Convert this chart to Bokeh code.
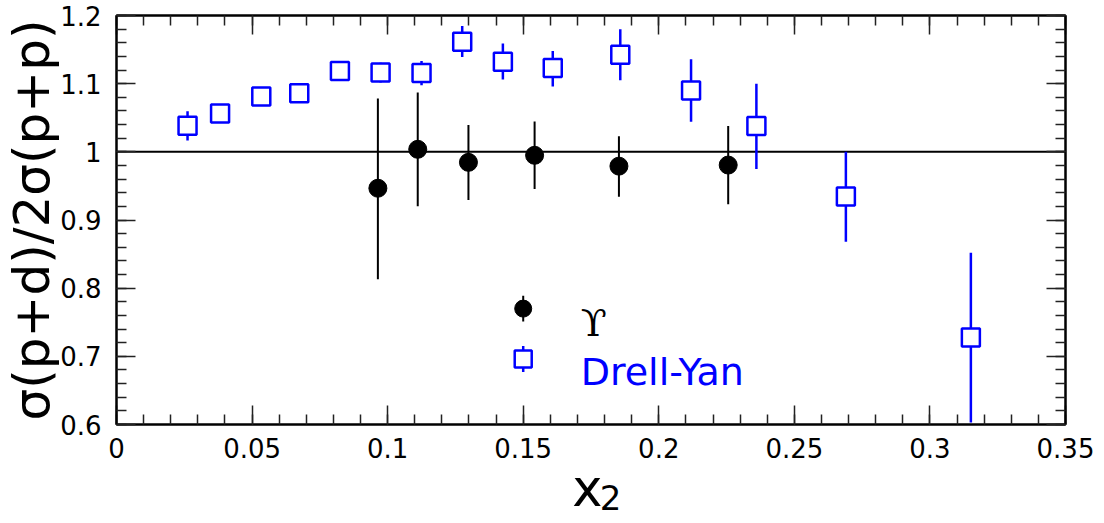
from bokeh.plotting import figure
from bokeh.models import (Range1d, FixedTicker, LinearAxis, Span, Label,
                          ColumnDataSource, CustomJSTickFormatter)
from bokeh.embed import file_html
from bokeh.resources import INLINE

# ---------------- data ----------------
# Upsilon: sigma(p+d)/2sigma(p+p)
ups_x = [0.0964, 0.1111, 0.1298, 0.1542, 0.1853, 0.2256]
ups_y = [0.9466, 1.0037, 0.9846, 0.9949, 0.9790, 0.9806]
ups_hi = [1.0782, 1.0870, 1.0392, 1.0446, 1.0228, 1.0380]
ups_lo = [0.8130, 0.9203, 0.9295, 0.9456, 0.9340, 0.9230]

# Drell-Yan
dy_x = [0.0262, 0.0382, 0.0534, 0.0674, 0.0824, 0.0974, 0.1125, 0.1275,
        0.1425, 0.1609, 0.1858, 0.2119, 0.2360, 0.2690, 0.3151]
dy_y = [1.0383, 1.0563, 1.0811, 1.0860, 1.1187, 1.1162, 1.1158, 1.1616,
        1.1323, 1.1230, 1.1424, 1.0900, 1.0380, 0.9346, 0.7277]
dy_hi = [1.0597, 1.0660, 1.0910, 1.0960, 1.1290, 1.1308, 1.1333, 1.1845,
         1.1591, 1.1480, 1.1800, 1.1360, 1.1000, 1.0000, 0.8520]
dy_lo = [1.0168, 1.0460, 1.0710, 1.0760, 1.1090, 1.1016, 1.0977, 1.1392,
         1.1060, 1.0960, 1.1050, 1.0440, 0.9750, 0.8680, 0.6030]

# axes / ticks
x_ticks = [0.0, 0.05, 0.10, 0.15, 0.20, 0.25, 0.30, 0.35]
x_tick_labels = ["0", "0.05", "0.1", "0.15", "0.2", "0.25", "0.3", "0.35"]
x_minor = [round(i * 0.01, 2) for i in range(36)]
y_ticks = [0.6, 0.7, 0.8, 0.9, 1.0, 1.1, 1.2]
y_tick_labels = ["0.6", "0.7", "0.8", "0.9", "1", "1.1", "1.2"]
y_minor = [round(0.6 + i * 0.02, 2) for i in range(31)]

x_title = ["x", "2"]          # x with subscript 2
y_title = "\u03c3(p+d)/2\u03c3(p+p)"
legend_labels = ["\u03d2", "Drell-Yan"]

BLUE = "#0000ff"
FONT = "DejaVu Sans"

# ---------------- figure ----------------
p = figure(frame_width=949, frame_height=409,
           x_range=Range1d(0, 0.35), y_range=Range1d(0.6, 1.2),
           output_backend="svg", toolbar_location=None,
           min_border_left=109, min_border_right=30,
           min_border_top=15, min_border_bottom=91,
           background_fill_color="white", border_fill_color="white")
p.xgrid.visible = False
p.ygrid.visible = False
p.outline_line_color = "black"
p.outline_line_width = 2

def fmt(ticks, labels):
    return CustomJSTickFormatter(args=dict(t=ticks, l=labels), code="""
        for (let i = 0; i < t.length; i++) {
            if (Math.abs(t[i] - tick) < 1e-9) return l[i];
        }
        return "";
    """)

def style_axis(ax, ticks, minor, labels, show_labels):
    ax.ticker = FixedTicker(ticks=ticks, minor_ticks=minor)
    ax.axis_line_color = "black"
    ax.axis_line_width = 2
    ax.major_tick_in = 19
    ax.major_tick_out = 0
    ax.minor_tick_in = 10
    ax.minor_tick_out = 0
    ax.major_tick_line_color = "#222222"
    ax.minor_tick_line_color = "#222222"
    ax.major_tick_line_width = 1.5
    ax.minor_tick_line_width = 1.5
    if show_labels:
        ax.formatter = fmt(ticks, labels)
        ax.major_label_text_font = FONT
        ax.major_label_text_font_size = "26px"
        ax.major_label_text_color = "black"
    else:
        ax.formatter = CustomJSTickFormatter(code="return '';")
        ax.major_label_text_font_size = "0px"
        ax.major_label_standoff = 0

xa = p.xaxis[0]
ya = p.yaxis[0]
style_axis(xa, x_ticks, x_minor, x_tick_labels, True)
style_axis(ya, y_ticks, y_minor, y_tick_labels, True)
xa.major_label_standoff = 13
ya.major_label_standoff = 15
ya.axis_label = y_title
ya.axis_label_text_font = FONT
ya.axis_label_text_font_size = "50px"
ya.axis_label_text_font_style = "normal"
ya.axis_label_text_color = "black"
ya.axis_label_standoff = -4

top = LinearAxis()
style_axis(top, x_ticks, x_minor, x_tick_labels, False)
p.add_layout(top, "above")
right = LinearAxis()
style_axis(right, y_ticks, y_minor, y_tick_labels, False)
p.add_layout(right, "right")

# x-axis title: x with a subscript 2 (placed in the panel below the frame)
p.add_layout(Label(x=0.1681, y=0.5061, text=x_title[0], text_font=FONT,
                   text_font_size="51px", text_color="black",
                   text_baseline="alphabetic"), "below")
p.add_layout(Label(x=0.1782, y=0.4929, text=x_title[1], text_font=FONT,
                   text_font_size="34px", text_color="black",
                   text_baseline="alphabetic"), "below")

# reference line at 1
p.add_layout(Span(location=1.0, dimension="width", line_color="black",
                  line_width=2, level="underlay"))

# ---------------- data marks ----------------
ups = ColumnDataSource(dict(x=ups_x, y=ups_y, hi=ups_hi, lo=ups_lo))
dy = ColumnDataSource(dict(x=dy_x, y=dy_y, hi=dy_hi, lo=dy_lo))

p.segment(x0="x", y0="lo", x1="x", y1="hi", source=dy,
          line_color=BLUE, line_width=2.5)
p.scatter(x="x", y="y", source=dy, marker="square", size=18,
          fill_color="white", line_color=BLUE, line_width=2.5)

p.segment(x0="x", y0="lo", x1="x", y1="hi", source=ups,
          line_color="black", line_width=2)
p.scatter(x="x", y="y", source=ups, marker="circle", size=18,
          fill_color="black", line_color="black")

# ---------------- legend (key) ----------------
LEG_X = 0.15
LEG_Y = [0.770, 0.6962]
LEG_ERR = 0.019
LEG_TX = 0.1712
LEG_TY = [0.7493, 0.6776]

leg_ups = ColumnDataSource(dict(x=[LEG_X], y=[LEG_Y[0]],
                                lo=[LEG_Y[0] - LEG_ERR], hi=[LEG_Y[0] + LEG_ERR]))
leg_dy = ColumnDataSource(dict(x=[LEG_X], y=[LEG_Y[1]],
                               lo=[LEG_Y[1] - LEG_ERR], hi=[LEG_Y[1] + LEG_ERR]))
p.segment(x0="x", y0="lo", x1="x", y1="hi", source=leg_ups,
          line_color="black", line_width=2)
p.scatter(x="x", y="y", source=leg_ups, marker="circle", size=17,
          fill_color="black", line_color="black")
p.segment(x0="x", y0="lo", x1="x", y1="hi", source=leg_dy,
          line_color=BLUE, line_width=2.5)
p.scatter(x="x", y="y", source=leg_dy, marker="square", size=17,
          fill_color="white", line_color=BLUE, line_width=2.5)

p.add_layout(Label(x=LEG_TX, y=LEG_TY[0], text=legend_labels[0],
                   text_font="DejaVu Serif", text_font_size="38px",
                   text_color="black", text_baseline="alphabetic"))
p.add_layout(Label(x=LEG_TX, y=LEG_TY[1], text=legend_labels[1],
                   text_font=FONT, text_font_size="38px",
                   text_color=BLUE, text_baseline="alphabetic"))

open("out.html", "w").write(file_html(p, INLINE))
